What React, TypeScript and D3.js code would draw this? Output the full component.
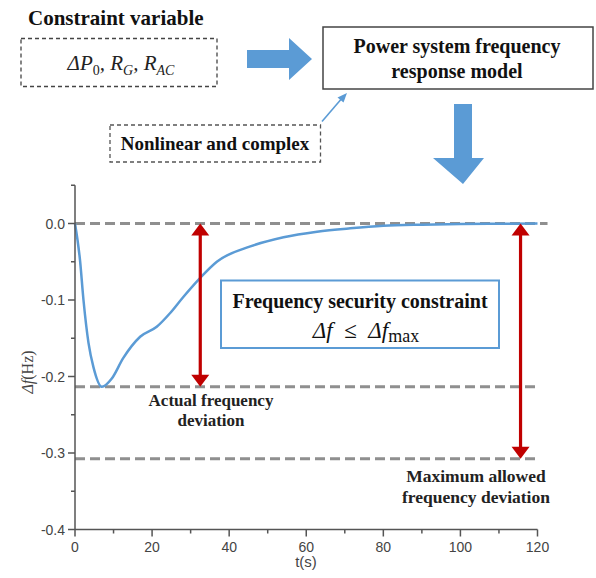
import React from "react";
import * as d3 from "d3";

// ---- data ----
const timeS = [0, 1.3, 2.2, 3.5, 4.8, 7, 9.5, 12.5, 16.9, 21.2, 24.7, 28.1, 32.5, 36.8, 45.5, 54.1, 62.8, 71.4, 80, 90, 100, 110, 120];
const deltaF = [0, -0.048, -0.1, -0.156, -0.188, -0.2135, -0.203, -0.176, -0.148, -0.135, -0.117, -0.096, -0.071, -0.05, -0.03, -0.018, -0.0107, -0.0063, -0.003, -0.0015, -0.0007, -0.0003, 0];
const refLevels = [0, -0.2133, -0.3075];
const refEnds = [122.6, 120, 120];
const xTicks = [0, 20, 40, 60, 80, 100, 120];
const xMinor = [10, 30, 50, 70, 90, 110];
const yTicks = [0.0, -0.1, -0.2, -0.3, -0.4];
const yMinor = [0.05, -0.05, -0.15, -0.25, -0.35];
const arrowTimes = [32.5, 115.6];
const arrowBottoms = [-0.2133, -0.3075];

const serif = "Liberation Serif, Times New Roman, serif";
const sans = "Liberation Sans, Arial, sans-serif";
const blue = "#5b9bd5";
const red = "#c00000";

export default function App() {
  const x = d3.scaleLinear().domain([0, 120]).range([75, 537.5]);
  const y = d3.scaleLinear().domain([-0.4, 0.05]).range([529.5, 185.25]);
  const line = d3
    .line<number>()
    .x((_, i) => x(timeS[i]))
    .y((d) => y(d))
    .curve(d3.curveMonotoneX);

  const redArrow = (t: number, bottom: number, i: number) => {
    const px = x(t);
    const top = y(0);
    const bot = y(bottom);
    const hw = 9;
    const hl = 12;
    return (
      <g key={i}>
        <line x1={px} x2={px} y1={top + hl - 1} y2={bot - hl + 1} stroke={red} strokeWidth={3.2} />
        <path d={`M${px},${top} L${px - hw},${top + hl} L${px + hw},${top + hl} Z`} fill={red} />
        <path d={`M${px},${bot} L${px - hw},${bot - hl} L${px + hw},${bot - hl} Z`} fill={red} />
      </g>
    );
  };

  const tStyle = { fontFamily: serif };

  return (
    <svg width={596} height={578} style={{ position: "absolute", left: 0, top: 0, background: "#fff" }}>
      {/* ---------- top diagram ---------- */}
      <text x={28} y={25} style={tStyle} fontWeight="bold" fontSize={21} fill="#111">
        Constraint variable
      </text>
      <rect x={21} y={38.5} width={196} height={48} fill="none" stroke="#444" strokeWidth={1.3} strokeDasharray="4 3" />
      <text x={121} y={70} textAnchor="middle" style={tStyle} fontStyle="italic" fontSize={21} fill="#222">
        <tspan>ΔP</tspan>
        <tspan fontSize={14} dy={5} fontStyle="normal">0</tspan>
        <tspan dy={-5}>, R</tspan>
        <tspan fontSize={14} dy={5}>G</tspan>
        <tspan dy={-5}>, R</tspan>
        <tspan fontSize={14} dy={5}>AC</tspan>
      </text>

      {/* big right arrow */}
      <path d="M247,50 L289,50 L289,38 L312,59 L289,80 L289,68 L247,68 Z" fill={blue} />

      {/* model box */}
      <rect x={323} y={27} width={270} height={62} fill="#fff" stroke="#444" strokeWidth={1.5} />
      <text x={457} y={53} textAnchor="middle" style={tStyle} fontWeight="bold" fontSize={20} fill="#111">
        Power system frequency
      </text>
      <text x={457} y={78} textAnchor="middle" style={tStyle} fontWeight="bold" fontSize={20} fill="#111">
        response model
      </text>

      {/* nonlinear box */}
      <rect x={110} y={125} width={210.5} height={37} fill="none" stroke="#555" strokeWidth={1.3} strokeDasharray="4 3" />
      <text x={215} y={150} textAnchor="middle" style={tStyle} fontWeight="bold" fontSize={19} fill="#111">
        Nonlinear and complex
      </text>
      {/* thin arrow */}
      <line x1={322} y1={121.5} x2={343} y2={97} stroke={blue} strokeWidth={1.6} />
      <path d="M347,93 L337.5,97.5 L343.5,102.5 Z" fill={blue} />

      {/* big down arrow */}
      <path d="M454,104 L472,104 L472,158 L484,158 L463,184 L433,158 L454,158 Z" fill={blue} />

      {/* ---------- chart ---------- */}
      {refLevels.map((v, i) => (
        <line
          key={i}
          x1={x(0)}
          x2={x(refEnds[i])}
          y1={y(v)}
          y2={y(v)}
          stroke="#8f8f8f"
          strokeWidth={3}
          strokeDasharray="10 5"
        />
      ))}

      <path d={line(deltaF) || ""} fill="none" stroke={blue} strokeWidth={2.5} />

      {/* axes */}
      <line x1={x(0)} x2={x(0)} y1={y(0.05)} y2={y(-0.4)} stroke="#555" strokeWidth={1.5} />
      <line x1={x(0)} x2={x(120)} y1={y(-0.4)} y2={y(-0.4)} stroke="#555" strokeWidth={1.5} />
      {yTicks.map((v) => (
        <g key={"yt" + v}>
          <line x1={x(0) - 7} x2={x(0)} y1={y(v)} y2={y(v)} stroke="#555" strokeWidth={1.5} />
          <text x={x(0) - 10} y={y(v) + 5} textAnchor="end" fontFamily={sans} fontSize={14} fill="#444">
            {d3.format(".1f")(v).replace("−", "-")}
          </text>
        </g>
      ))}
      {yMinor.map((v) => (
        <line key={"ym" + v} x1={x(0) - 4} x2={x(0)} y1={y(v)} y2={y(v)} stroke="#555" strokeWidth={1.5} />
      ))}
      {xTicks.map((v) => (
        <g key={"xt" + v}>
          <line x1={x(v)} x2={x(v)} y1={y(-0.4)} y2={y(-0.4) + 7} stroke="#555" strokeWidth={1.5} />
          <text x={x(v)} y={y(-0.4) + 22} textAnchor="middle" fontFamily={sans} fontSize={14} fill="#444">
            {v}
          </text>
        </g>
      ))}
      {xMinor.map((v) => (
        <line key={"xm" + v} x1={x(v)} x2={x(v)} y1={y(-0.4)} y2={y(-0.4) + 4} stroke="#555" strokeWidth={1.5} />
      ))}
      <text x={306} y={567} textAnchor="middle" fontFamily={sans} fontSize={15} fill="#444">
        t(s)
      </text>
      <text transform={`translate(33,372) rotate(-90)`} textAnchor="middle" style={tStyle} fontSize={16} fill="#444">
        <tspan fontStyle="italic">Δf</tspan>(Hz)
      </text>

      {/* red arrows */}
      {arrowTimes.map((t, i) => redArrow(t, arrowBottoms[i], i))}

      {/* constraint box */}
      <rect x={221} y={280.5} width={278} height={67.5} fill="#fff" stroke={blue} strokeWidth={2} />
      <text x={360} y={308} textAnchor="middle" style={tStyle} fontWeight="bold" fontSize={20} fill="#111">
        Frequency security constraint
      </text>
      <text x={366} y={338} textAnchor="middle" style={tStyle} fontStyle="italic" fontSize={23} fill="#111">
        <tspan>Δf</tspan>
        <tspan fontStyle="normal">{"\u00A0\u00A0≤\u00A0\u00A0"}</tspan>
        <tspan>Δf</tspan>
        <tspan fontStyle="normal" fontSize={18} dy={4}>max</tspan>
      </text>

      {/* annotations */}
      <text x={211} y={406} textAnchor="middle" style={tStyle} fontWeight="bold" fontSize={17} fill="#222">
        Actual frequency
      </text>
      <text x={211} y={426} textAnchor="middle" style={tStyle} fontWeight="bold" fontSize={17} fill="#222">
        deviation
      </text>
      <text x={476} y={482} textAnchor="middle" style={tStyle} fontWeight="bold" fontSize={17.5} fill="#222">
        Maximum allowed
      </text>
      <text x={476} y={503} textAnchor="middle" style={tStyle} fontWeight="bold" fontSize={17.5} fill="#222">
        frequency deviation
      </text>
    </svg>
  );
}
